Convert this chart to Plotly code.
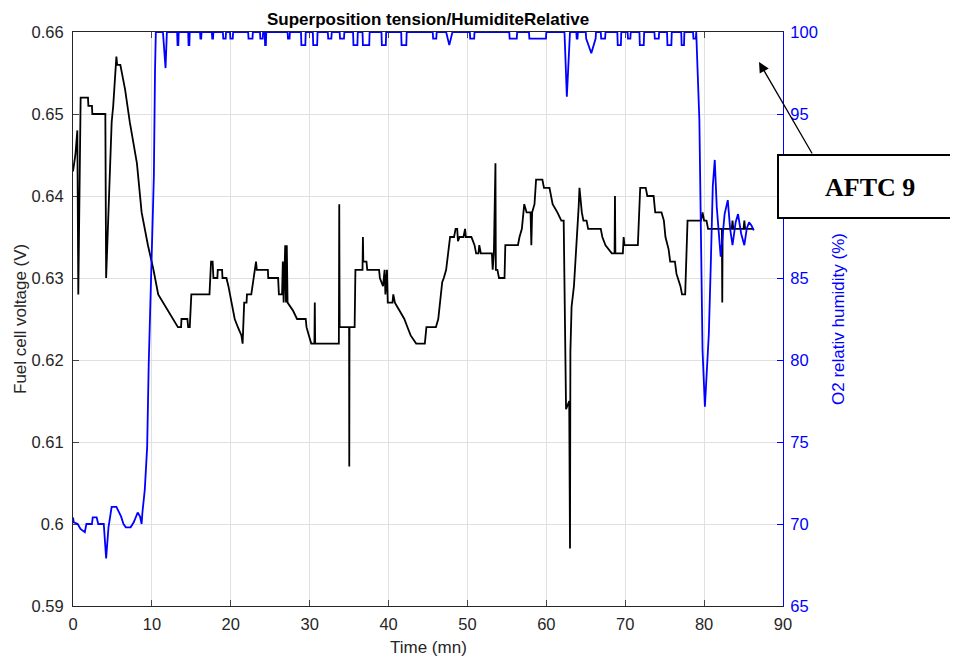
import plotly.graph_objects as go

# ---------------- data ----------------
time_v = [0.0, 0.3, 0.55, 0.67, 0.97, 1.9, 1.95, 2.4, 2.45, 4.1, 4.2, 4.9, 5.1, 5.5, 5.6, 6.0,
          6.6, 7.2, 8.1, 8.7, 9.5, 10.2, 10.8, 11.4, 12.1, 12.7, 13.3, 13.7, 13.75, 14.5, 14.6,
          14.8, 15.0, 17.3, 17.5, 17.7, 17.8, 18.3, 18.35, 18.9, 18.95, 19.45, 19.7, 20.1, 20.5,
          20.9, 21.35, 21.5, 21.7, 22.0, 22.05, 22.6, 23.0, 23.2, 23.3, 24.7, 24.75, 26.0, 26.1,
          26.5, 26.6, 26.7, 26.9, 27.0, 27.1, 27.2, 27.9, 28.4, 29.5, 29.6, 29.9, 30.2, 30.6,
          30.65, 30.7, 33.7, 33.75, 33.8, 35.0, 35.02, 35.05, 35.7, 35.8, 36.7, 36.75, 36.8,
          37.2, 37.3, 38.8, 38.9, 39.3, 39.5, 39.6, 39.8, 39.9, 40.5, 40.6, 40.8, 41.4, 42.0,
          42.4, 42.8, 43.5, 44.6, 44.8, 46.0, 46.3, 46.8, 47.0, 47.3, 47.8, 48.3, 48.5, 48.7,
          48.8, 49.0, 49.5, 49.7, 49.8, 50.5, 50.9, 51.1, 51.4, 51.5, 51.7, 53.1, 53.2, 53.35,
          53.55, 53.6, 53.8, 54.0, 54.7, 54.8, 56.4, 56.6, 56.9, 57.2, 57.5, 58.0, 58.1, 58.2,
          58.5, 58.7, 59.5, 59.7, 60.4, 60.6, 60.8, 61.4, 61.9, 62.2, 62.5, 62.9, 63.0, 63.05,
          63.2, 63.5, 63.9, 64.1, 64.2, 64.5, 64.7, 65.1, 65.3, 66.9, 67.1, 67.5, 68.3, 68.65,
          68.7, 68.75, 69.7, 69.8, 69.9, 71.6, 71.9, 72.6, 72.8, 73.6, 73.8, 74.6, 74.9, 75.1,
          75.5, 75.7, 76.3, 76.5, 77.0, 77.2, 77.6, 77.9, 79.6, 79.8, 80.0, 80.3, 80.5, 82.25,
          82.3, 82.35, 83.5, 83.6, 83.7, 85.0, 85.1, 85.2, 86.3]
voltage = [0.643, 0.645, 0.648, 0.628, 0.652, 0.652, 0.651, 0.651, 0.650, 0.650, 0.630, 0.649,
           0.651, 0.657, 0.656, 0.656, 0.653, 0.649, 0.644, 0.638, 0.634, 0.631, 0.628, 0.627,
           0.626, 0.625, 0.624, 0.624, 0.625, 0.625, 0.624, 0.624, 0.628, 0.628, 0.632, 0.632,
           0.630, 0.630, 0.631, 0.631, 0.630, 0.630, 0.629, 0.627, 0.625, 0.624, 0.623, 0.622,
           0.627, 0.627, 0.628, 0.628, 0.631, 0.632, 0.631, 0.631, 0.630, 0.630, 0.628, 0.628,
           0.632, 0.627, 0.634, 0.627, 0.634, 0.627, 0.626, 0.625, 0.625, 0.624, 0.623, 0.622,
           0.622, 0.627, 0.622, 0.622, 0.639, 0.624, 0.624, 0.607, 0.624, 0.624, 0.631, 0.631,
           0.635, 0.632, 0.632, 0.631, 0.631, 0.630, 0.629, 0.631, 0.628, 0.631, 0.627, 0.627,
           0.628, 0.627, 0.626, 0.625, 0.624, 0.623, 0.622, 0.622, 0.624, 0.624, 0.625, 0.6295,
           0.630, 0.631, 0.635, 0.635, 0.636, 0.636, 0.6345, 0.635, 0.635, 0.636, 0.635, 0.635,
           0.634, 0.633, 0.633, 0.634, 0.633, 0.633, 0.631, 0.633, 0.644, 0.631, 0.631, 0.630,
           0.630, 0.634, 0.634, 0.635, 0.636, 0.639, 0.638, 0.638, 0.634, 0.638, 0.639, 0.642,
           0.642, 0.641, 0.641, 0.640, 0.639, 0.638, 0.637, 0.637, 0.614, 0.615, 0.597, 0.621,
           0.6265, 0.629, 0.635, 0.6387, 0.641, 0.638, 0.637, 0.637, 0.636, 0.636, 0.635, 0.634,
           0.633, 0.633, 0.640, 0.633, 0.633, 0.635, 0.634, 0.634, 0.641, 0.641, 0.640, 0.640,
           0.638, 0.638, 0.637, 0.635, 0.6335, 0.632, 0.632, 0.6305, 0.629, 0.628, 0.628, 0.637,
           0.637, 0.638, 0.637, 0.637, 0.636, 0.636, 0.627, 0.636, 0.636, 0.637, 0.636, 0.636,
           0.637, 0.636, 0.636]

time_h = [0.0, 0.1, 0.6, 0.95, 1.5, 1.7, 2.4, 2.5, 3.0, 3.2, 3.9, 4.2, 4.5, 4.9, 5.5, 5.8, 6.1,
          6.4, 6.7, 7.3, 7.7, 8.2, 8.5, 8.7, 8.8, 9.1, 9.4, 9.6, 9.96, 10.25, 10.4, 10.5, 11.4,
          11.73, 11.9, 13.2, 13.25, 13.35, 13.4, 14.6, 14.65, 14.75, 14.8, 16.1, 16.15, 16.25,
          16.3, 17.6, 17.65, 17.75, 17.8, 19.0, 19.05, 19.35, 19.4, 19.9, 19.95, 20.25, 20.3,
          22.2, 22.25, 22.75, 22.8, 23.7, 23.75, 24.05, 24.1, 24.3, 24.35, 24.45, 24.5, 27.2,
          27.25, 27.45, 27.5, 28.9, 28.95, 29.45, 29.5, 30.4, 30.45, 30.95, 31.0, 32.3, 32.35,
          32.75, 32.8, 33.8, 33.85, 34.35, 34.4, 35.5, 35.55, 36.05, 36.1, 36.7, 36.75, 37.55,
          37.6, 39.1, 39.15, 39.65, 39.7, 41.6, 41.65, 42.25, 42.3, 45.6, 45.65, 46.05, 46.1,
          47.3, 47.7, 48.1, 50.3, 50.35, 50.85, 50.9, 55.3, 55.35, 56.25, 56.3, 57.8, 57.85,
          59.95, 60.0, 62.3, 62.6, 63.0, 63.8, 63.85, 63.95, 64.0, 65.0, 65.05, 65.7, 66.25,
          66.3, 66.9, 66.95, 67.45, 67.5, 69.0, 69.05, 69.45, 69.5, 70.3, 70.35, 70.65, 70.7,
          71.8, 71.85, 72.35, 72.4, 73.7, 73.75, 74.25, 74.3, 75.3, 75.35, 75.85, 75.9, 77.1,
          77.15, 77.45, 77.5, 78.6, 78.65, 78.95, 79.0, 79.4, 79.6, 79.8, 80.1, 80.6, 80.85,
          81.1, 81.35, 81.6, 82.1, 82.3, 82.6, 83.0, 83.3, 83.6, 84.0, 84.3, 84.7, 85.1, 85.4,
          85.7, 86.0, 86.3]
humidity = [70.4, 70.1, 70.0, 69.7, 69.5, 70.0, 70.0, 70.4, 70.4, 70.0, 70.0, 67.9, 69.8, 71.05,
            71.05, 70.75, 70.45, 70.0, 69.8, 69.8, 70.1, 70.7, 70.45, 70.0, 70.7, 72.1, 74.7,
            79.8, 85.9, 91.2, 97.7, 100, 100, 97.8, 100, 100, 99.2, 99.2, 100, 100, 99.2, 99.2,
            100, 100, 99.6, 99.6, 100, 100, 99.6, 99.6, 100, 100, 99.6, 99.6, 100, 100, 99.6,
            99.6, 100, 100, 99.6, 99.6, 100, 100, 99.6, 99.6, 100, 100, 99.2, 99.2, 100, 100,
            99.6, 99.6, 100, 100, 99.2, 99.2, 100, 100, 99.2, 99.2, 100, 100, 99.6, 99.6, 100,
            100, 99.6, 99.6, 100, 100, 99.2, 99.2, 100, 100, 99.2, 99.2, 100, 100, 99.2, 99.2,
            100, 100, 99.2, 99.2, 100, 100, 99.6, 99.6, 100, 100, 99.2, 100, 100, 99.6, 99.6,
            100, 100, 99.6, 99.6, 100, 100, 99.6, 99.6, 100, 100, 96.05, 100, 100, 99.6, 99.6,
            100, 100, 99.6, 98.7, 99.6, 100, 100, 99.6, 99.6, 100, 100, 99.2, 99.2, 100, 100,
            99.6, 99.6, 100, 100, 99.2, 99.2, 100, 100, 99.6, 99.6, 100, 100, 99.2, 99.2, 100,
            100, 99.2, 99.2, 100, 100, 99.6, 99.6, 100, 94.6, 86.5, 80.6, 77.15, 81.6, 85.9,
            90.6, 92.2, 89.35, 86.3, 87.5, 88.9, 89.75, 88.0, 87.0, 88.4, 88.9, 87.7, 87.0, 88.0,
            88.4, 88.2, 87.9]

x_ticks = [0, 10, 20, 30, 40, 50, 60, 70, 80, 90]
v_ticks = [0.59, 0.60, 0.61, 0.62, 0.63, 0.64, 0.65, 0.66]
v_tick_labels = ["0.59", "0.6", "0.61", "0.62", "0.63", "0.64", "0.65", "0.66"]
h_ticks = [65, 70, 75, 80, 85, 90, 95, 100]

title_text = "Superposition tension/HumiditeRelative"
x_title = "Time (mn)"
y_title = "Fuel cell voltage (V)"
y2_title = "O2 relativ humidity (%)"
note_text = "AFTC 9"

# ---------------- figure ----------------
OFF = 8  # default page body margin
PAGE_W, PAGE_H = 958, 659
W, H = PAGE_W - OFF, PAGE_H - OFF
# plot area in page pixels: x 73..783, y 32..606
L, T = 73 - OFF, 32 - OFF
R = W - (783 - OFF)
B = H - (606 - OFF)
pw, ph = W - L - R, H - T - B


def px_x(p):  # page pixel -> paper x
    return (p - OFF - L) / pw


def px_y(p):  # page pixel -> paper y
    return (H - B - (p - OFF)) / ph


BLUE = "#0000ff"
TXT = "#262626"
FONT = "Liberation Sans, Arial, sans-serif"
FS = 16.5

fig = go.Figure()
fig.add_trace(go.Scatter(x=time_v, y=voltage, mode="lines",
                         line=dict(color="black", width=1.8), yaxis="y", showlegend=False))
fig.add_trace(go.Scatter(x=time_h, y=humidity, mode="lines",
                         line=dict(color=BLUE, width=1.8), yaxis="y2", showlegend=False))

fig.update_layout(
    width=W, height=H, autosize=False,
    margin=dict(l=L, r=R, t=T, b=B, pad=0),
    paper_bgcolor="white", plot_bgcolor="white",
    font=dict(family=FONT, size=FS, color=TXT),
    xaxis=dict(range=[0, 90], tickvals=x_ticks, ticks="inside", ticklen=6,
               showline=True, linecolor="#262626", linewidth=1, mirror="ticks",
               showgrid=True, gridcolor="#e0e0e0", gridwidth=1, zeroline=False,
               tickfont=dict(size=FS, color=TXT), ticklabelstandoff=3,
               layer="below traces"),
    yaxis=dict(range=[0.59, 0.66], tickvals=v_ticks, ticktext=v_tick_labels,
               ticks="inside", ticklen=6, showline=True, linecolor="#262626", linewidth=1,
               showgrid=True, gridcolor="#e0e0e0", gridwidth=1, zeroline=False,
               tickfont=dict(size=FS, color=TXT), ticklabelstandoff=5,
               layer="below traces"),
    yaxis2=dict(range=[65, 100], tickvals=h_ticks, overlaying="y", side="right",
                ticks="inside", ticklen=6, tickcolor=BLUE, showline=True, linecolor=BLUE,
                linewidth=1, showgrid=False, zeroline=False,
                tickfont=dict(size=FS, color=BLUE), ticklabelstandoff=3,
                layer="below traces"),
)

# title (as annotation anchored at the top of the figure so it is never clipped)
fig.add_annotation(text="<b>" + title_text + "</b>", xref="paper", yref="paper",
                   x=px_x(428), y=px_y(8), showarrow=False, xanchor="center",
                   yanchor="top", font=dict(size=17, color="black", family=FONT))

# axis titles
fig.add_annotation(text=x_title, xref="paper", yref="paper", x=px_x(428), y=px_y(647),
                   showarrow=False, font=dict(size=17, color=TXT), xanchor="center",
                   yanchor="middle")
fig.add_annotation(text=y_title, xref="paper", yref="paper", x=px_x(20), y=px_y(319),
                   showarrow=False, textangle=-90, font=dict(size=17, color=TXT),
                   xanchor="center", yanchor="middle")
fig.add_annotation(text=y2_title, xref="paper", yref="paper", x=px_x(838), y=px_y(319),
                   showarrow=False, textangle=-90, font=dict(size=17, color=BLUE),
                   xanchor="center", yanchor="middle")

# text box with arrow
fig.add_shape(type="rect", xref="paper", yref="paper",
              x0=px_x(778), x1=px_x(1010), y0=px_y(218), y1=px_y(155),
              line=dict(color="black", width=2), fillcolor="white", layer="above")
fig.add_annotation(text="<b>" + note_text + "</b>", xref="paper", yref="paper",
                   x=px_x(870), y=px_y(187), showarrow=False,
                   font=dict(size=26, color="black",
                             family="Liberation Serif, Times New Roman, serif"),
                   xanchor="center", yanchor="middle")
fig.add_annotation(text="", xref="paper", yref="paper", x=px_x(759), y=px_y(62),
                   ax=54, ay=93, showarrow=True, arrowhead=2, arrowsize=1.6,
                   arrowwidth=1.3, arrowcolor="black", standoff=0)

fig.write_html("out.html")
